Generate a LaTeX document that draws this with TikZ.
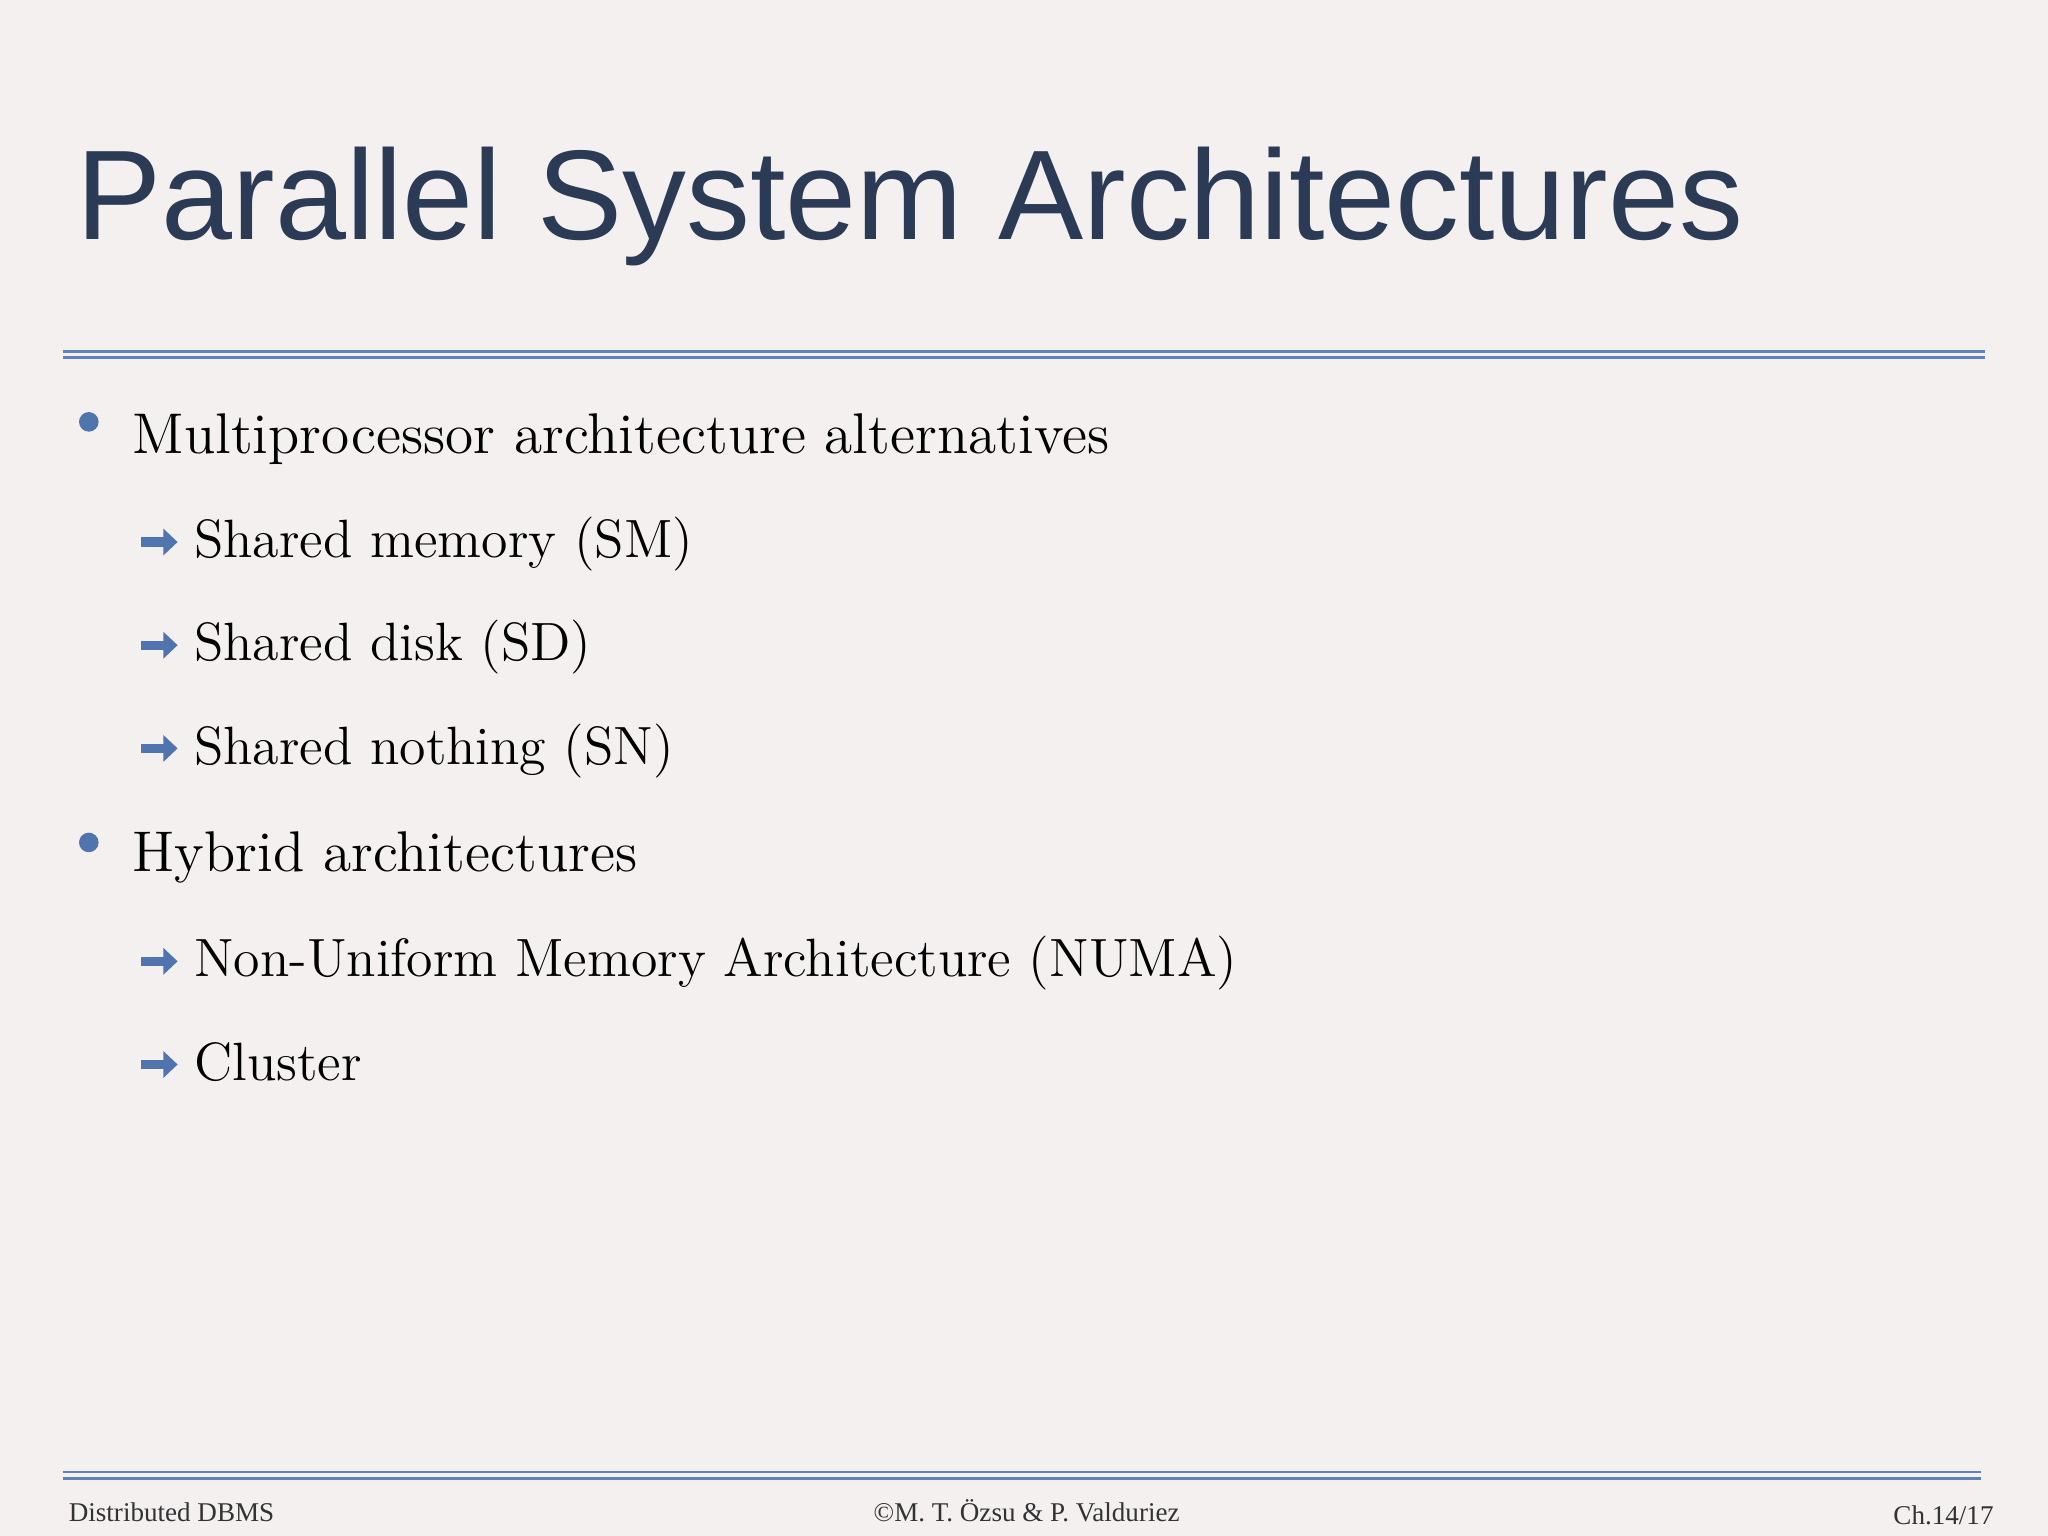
\documentclass[tikz,border=0pt]{standalone}
\usepackage{fontspec}
\newfontfamily\titlefont{Liberation Sans}
\newfontfamily\footfont{Liberation Serif}
\usetikzlibrary{arrows.meta}
\definecolor{slidebg}{HTML}{F3F0EF}
\definecolor{titleblue}{HTML}{2B3A55}
\definecolor{ruleblue}{HTML}{5F82B8}
\definecolor{bulletblue}{HTML}{4F74AE}
\tikzset{
  item/.style={anchor=base west, inner sep=0pt, font=\fontsize{12.5}{14}\selectfont},
  subitem/.style={anchor=base west, inner sep=0pt, font=\fontsize{11.75}{14}\selectfont},
  foot/.style={inner sep=0pt, font=\footfont\fontsize{5.9}{7}\selectfont, text=black!80},
  rule/.style={ruleblue, line width=0.6pt},
  dot/.style={circle, fill=bulletblue, inner sep=0pt, minimum size=0.15cm},
  arr/.style={bulletblue, line width=2pt, -{Triangle[length=0.11cm,width=0.2cm]}}
}
\begin{document}
\begin{tikzpicture}
\fill[slidebg] (0,0) rectangle (15.68,-11.76);
\useasboundingbox (0,0) rectangle (15.68,-11.76);
% title
\node[anchor=base west, inner sep=0pt, text=titleblue, font=\titlefont\fontsize{27.8}{30}\selectfont] (title) at (0.58,-1.83) {Parallel System Architectures};
\draw[rule] (0.48,-2.69) -- (15.2,-2.69);
\draw[rule] (0.48,-2.74) -- (15.2,-2.74);
% bullets
\node[dot] (d1) at (0.68,-3.23) {};
\node[item] (multi) at (1.01,-3.47) {Multiprocessor architecture alternatives};
\foreach \t/\y [count=\i] in {Shared memory (SM)/4.27, Shared disk (SD)/5.06, Shared nothing (SN)/5.85}{
  \node[subitem] (sub\i) at (1.48,-\y) {\t};
  \draw[arr] (1.08,-\y+0.12) -- (1.36,-\y+0.12);
}
\node[dot] (d2) at (0.68,-6.45) {};
\node[item] (hybrid) at (1.01,-6.67) {Hybrid architectures};
\foreach \t/\y [count=\i] in {Non-Uniform Memory Architecture (NUMA)/7.48, Cluster/8.27}{
  \node[subitem] (hsub\i) at (1.48,-\y) {\t};
  \draw[arr] (1.08,-\y+0.12) -- (1.36,-\y+0.12);
}
% footer
\draw[rule] (0.48,-11.27) -- (15.17,-11.27);
\draw[rule] (0.48,-11.32) -- (15.17,-11.32);
\node[foot, anchor=base west] (fl) at (0.52,-11.65) {Distributed DBMS};
\node[foot, anchor=base] (fc) at (7.86,-11.65) {\textcopyright M. T. Özsu \& P. Valduriez};
\node[foot, anchor=base east] (fr) at (15.27,-11.67) {Ch.14/17};
\end{tikzpicture}
\end{document}
